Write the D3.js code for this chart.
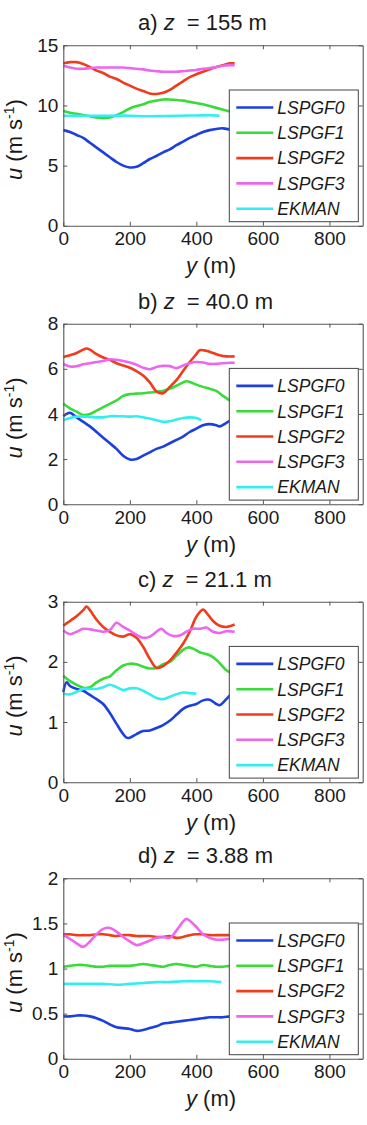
<!DOCTYPE html>
<html>
<head>
<meta charset="utf-8">
<script src="https://cdn.jsdelivr.net/npm/d3@7"></script>
<style>
  body { margin: 0; background: #fff; }
  svg { display: block; font-family: "Liberation Sans", Arial, sans-serif; }
</style>
</head>
<body>
<svg id="chart" width="367" height="1125"></svg>
<script>
// series names and colours
const seriesNames = ["LSPGF0", "LSPGF1", "LSPGF2", "LSPGF3", "EKMAN"];
const seriesColors = ["#1c3fe0", "#38dc38", "#ee3c1c", "#ee66ee", "#33eeee"];

// panel titles
const panelLabels = ["a)", "b)", "c)", "d)"];
const panelHeights = ["155", "40.0", "21.1", "3.88"];
const panelYMax = [15, 8, 3, 2];
const panelYTicks = [[0, 5, 10, 15], [0, 2, 4, 6, 8], [0, 1, 2, 3], [0, 0.5, 1, 1.5, 2]];
const xTicks = [0, 200, 400, 600, 800];

// a) z = 155 m   [y (m), u (m/s)]
const a_LSPGF0 = [[0,7.95],[20,7.8],[40,7.55],[60,7.3],[80,6.9],[100,6.5],[120,6.1],[140,5.7],[160,5.3],[180,5.0],[200,4.85],[220,4.9],[240,5.2],[260,5.55],[280,5.8],[300,6.1],[320,6.35],[340,6.7],[360,7.0],[380,7.3],[400,7.55],[420,7.8],[440,7.95],[460,8.05],[480,8.1],[500,8.0],[510,7.95]];
const a_LSPGF1 = [[0,9.55],[20,9.4],[40,9.3],[60,9.2],[80,9.1],[100,9.0],[120,8.95],[140,9.0],[160,9.2],[180,9.45],[200,9.75],[220,9.95],[240,10.1],[260,10.3],[280,10.4],[300,10.5],[320,10.5],[340,10.45],[360,10.4],[380,10.3],[400,10.2],[420,10.1],[440,9.95],[460,9.8],[480,9.65],[500,9.5],[510,9.45]];
const a_LSPGF2 = [[0,13.5],[20,13.6],[40,13.6],[60,13.45],[80,13.2],[100,12.9],[120,12.7],[140,12.4],[160,12.2],[180,11.9],[200,11.65],[220,11.4],[240,11.2],[260,11.0],[280,10.95],[300,11.05],[320,11.3],[340,11.65],[360,12.0],[380,12.35],[400,12.6],[420,12.8],[440,13.0],[460,13.2],[480,13.35],[500,13.5],[515,13.5]];
const a_LSPGF3 = [[0,13.3],[20,13.15],[40,13.05],[60,13.05],[80,13.1],[100,13.15],[120,13.15],[140,13.15],[160,13.15],[180,13.15],[200,13.1],[220,13.05],[240,13.0],[260,12.9],[280,12.85],[300,12.8],[320,12.8],[340,12.8],[360,12.85],[380,12.9],[400,12.95],[420,13.05],[440,13.1],[460,13.2],[480,13.3],[500,13.35],[515,13.35]];
const a_EKMAN = [[0,9.15],[50,9.15],[100,9.15],[150,9.15],[200,9.15],[250,9.1],[300,9.12],[350,9.15],[400,9.17],[450,9.18],[470,9.15]];

// b) z = 40.0 m
const b_LSPGF0 = [[0,3.9],[10,4.0],[20,4.05],[40,3.85],[60,3.65],[80,3.45],[100,3.2],[120,2.95],[140,2.7],[160,2.45],[180,2.15],[200,1.98],[220,2.0],[240,2.15],[260,2.3],[280,2.45],[300,2.55],[320,2.7],[340,2.85],[360,3.0],[380,3.2],[400,3.35],[420,3.5],[440,3.55],[460,3.5],[470,3.45],[490,3.6],[510,3.8]];
const b_LSPGF1 = [[0,4.45],[20,4.25],[40,4.1],[60,3.95],[80,4.0],[100,4.15],[120,4.3],[140,4.45],[160,4.6],[180,4.8],[200,4.88],[220,4.9],[240,4.92],[260,4.95],[280,4.98],[300,5.02],[320,5.12],[340,5.25],[360,5.4],[370,5.45],[380,5.42],[400,5.3],[420,5.2],[440,5.12],[460,5.02],[480,4.8],[500,4.6],[510,4.5]];
const b_LSPGF2 = [[0,6.52],[20,6.6],[40,6.7],[60,6.85],[70,6.9],[80,6.85],[100,6.65],[120,6.5],[140,6.4],[160,6.25],[180,6.15],[200,6.05],[220,5.9],[240,5.7],[260,5.4],[280,5.0],[300,4.92],[320,5.2],[340,5.5],[360,5.9],[380,6.3],[400,6.65],[410,6.82],[430,6.8],[450,6.7],[470,6.6],[490,6.55],[515,6.55]];
const b_LSPGF3 = [[0,6.22],[20,6.1],[40,6.12],[60,6.2],[80,6.25],[100,6.3],[120,6.35],[140,6.42],[160,6.4],[180,6.35],[200,6.28],[220,6.18],[240,6.05],[260,5.98],[280,6.08],[300,6.13],[320,6.12],[340,6.03],[360,6.15],[380,6.25],[400,6.3],[420,6.28],[440,6.22],[460,6.22],[480,6.25],[500,6.27],[515,6.27]];
const b_EKMAN = [[0,3.72],[20,3.82],[40,3.88],[60,3.88],[80,3.87],[100,3.85],[120,3.85],[140,3.9],[160,3.9],[180,3.9],[200,3.88],[220,3.9],[240,3.85],[260,3.8],[280,3.72],[300,3.65],[320,3.68],[340,3.75],[360,3.82],[380,3.85],[400,3.82],[415,3.72]];

// c) z = 21.1 m
const c_LSPGF0 = [[0,1.5],[10,1.66],[20,1.6],[40,1.55],[60,1.52],[80,1.45],[100,1.38],[120,1.3],[140,1.15],[160,0.97],[180,0.8],[190,0.74],[200,0.74],[220,0.8],[240,0.85],[260,0.86],[280,0.9],[300,0.95],[320,1.02],[340,1.12],[360,1.22],[380,1.27],[400,1.3],[420,1.36],[440,1.37],[460,1.3],[470,1.28],[490,1.38],[510,1.5]];
const c_LSPGF1 = [[0,1.77],[20,1.68],[40,1.62],[60,1.57],[80,1.58],[100,1.66],[120,1.72],[140,1.76],[160,1.86],[180,1.94],[200,1.97],[220,1.96],[240,1.92],[260,1.89],[280,1.9],[300,1.96],[320,2.0],[340,2.1],[360,2.2],[375,2.24],[390,2.22],[410,2.16],[430,2.13],[450,2.08],[470,1.98],[490,1.86],[510,1.8]];
const c_LSPGF2 = [[0,2.6],[20,2.68],[40,2.76],[60,2.86],[70,2.92],[80,2.86],[100,2.7],[120,2.58],[140,2.5],[160,2.44],[180,2.42],[200,2.46],[220,2.4],[240,2.25],[260,2.05],[280,1.9],[300,1.93],[320,2.02],[340,2.15],[360,2.3],[380,2.5],[400,2.75],[420,2.87],[430,2.82],[450,2.68],[470,2.6],[490,2.58],[515,2.62]];
const c_LSPGF3 = [[0,2.52],[20,2.46],[40,2.5],[60,2.55],[80,2.54],[100,2.52],[120,2.5],[140,2.53],[160,2.65],[180,2.58],[200,2.52],[220,2.45],[240,2.4],[260,2.42],[280,2.5],[295,2.55],[310,2.48],[330,2.43],[350,2.44],[370,2.5],[390,2.55],[410,2.55],[430,2.57],[450,2.5],[470,2.48],[490,2.51],[515,2.5]];
const c_EKMAN = [[0,1.47],[20,1.46],[40,1.5],[60,1.55],[80,1.55],[100,1.55],[120,1.58],[140,1.62],[160,1.58],[180,1.53],[200,1.56],[220,1.56],[240,1.52],[260,1.46],[280,1.4],[300,1.38],[320,1.42],[340,1.46],[360,1.49],[380,1.48],[400,1.47]];

// d) z = 3.88 m
const d_LSPGF0 = [[0,0.47],[20,0.47],[40,0.48],[60,0.48],[80,0.47],[100,0.45],[120,0.42],[140,0.38],[160,0.35],[180,0.34],[200,0.33],[220,0.31],[240,0.32],[260,0.34],[280,0.36],[300,0.39],[320,0.4],[340,0.41],[360,0.42],[380,0.43],[400,0.44],[420,0.45],[440,0.46],[460,0.46],[480,0.46],[500,0.47],[510,0.47]];
const d_LSPGF1 = [[0,1.02],[20,1.03],[40,1.04],[60,1.04],[80,1.03],[100,1.02],[120,1.02],[140,1.03],[160,1.03],[180,1.03],[200,1.03],[220,1.04],[240,1.05],[260,1.04],[280,1.03],[300,1.02],[320,1.04],[340,1.05],[360,1.04],[380,1.03],[400,1.02],[420,1.04],[440,1.03],[460,1.02],[480,1.02],[500,1.03],[510,1.03]];
const d_LSPGF2 = [[0,1.38],[20,1.38],[40,1.37],[60,1.37],[80,1.37],[100,1.38],[120,1.38],[140,1.37],[160,1.36],[180,1.37],[200,1.37],[220,1.36],[240,1.36],[260,1.36],[280,1.35],[300,1.35],[320,1.36],[340,1.34],[360,1.35],[380,1.37],[400,1.38],[420,1.38],[440,1.37],[460,1.37],[480,1.37],[500,1.37],[515,1.37]];
const d_LSPGF3 = [[0,1.37],[20,1.33],[40,1.28],[60,1.24],[80,1.3],[100,1.38],[120,1.44],[140,1.45],[160,1.41],[180,1.35],[200,1.3],[220,1.26],[240,1.28],[260,1.31],[280,1.34],[300,1.35],[320,1.34],[340,1.42],[360,1.52],[370,1.55],[380,1.53],[400,1.46],[420,1.38],[440,1.34],[460,1.32],[480,1.32],[500,1.33],[515,1.33]];
const d_EKMAN = [[0,0.83],[40,0.83],[80,0.83],[120,0.83],[160,0.82],[200,0.83],[240,0.84],[280,0.85],[320,0.85],[360,0.86],[400,0.86],[440,0.86],[475,0.85]];

const panelSeries = [
    [a_LSPGF0, a_LSPGF1, a_LSPGF2, a_LSPGF3, a_EKMAN],
    [b_LSPGF0, b_LSPGF1, b_LSPGF2, b_LSPGF3, b_EKMAN],
    [c_LSPGF0, c_LSPGF1, c_LSPGF2, c_LSPGF3, c_EKMAN],
    [d_LSPGF0, d_LSPGF1, d_LSPGF2, d_LSPGF3, d_EKMAN]
];

(() => {
    const svg = d3.select("#chart");
    const left = 63.3, plotW = 299.4, plotH = 180.5;
    const tops = [45.3, 323.7, 601.7, 878.3];
    const tickFont = 19, labelFont = 22;

    const x = d3.scaleLinear().domain([0, 900]).range([0, plotW]);

    panelSeries.forEach((series, p) => {
        const g = svg.append("g").attr("transform", `translate(${left},${tops[p]})`);
        const y = d3.scaleLinear().domain([0, panelYMax[p]]).range([plotH, 0]);

        // lines first, box and legend on top
        const line = d3.line()
            .x(d => x(d[0]))
            .y(d => y(d[1]))
            .curve(d3.curveCatmullRom.alpha(0.5));
        g.selectAll(".series")
            .data(series)
            .join("path")
            .attr("class", "series")
            .attr("fill", "none")
            .attr("stroke", (d, i) => seriesColors[i])
            .attr("stroke-width", 2.6)
            .attr("stroke-linejoin", "round")
            .attr("d", line);

        // axes, ticks pointing inward like matlab
        const styleAxis = sel => {
            sel.select(".domain").attr("stroke", "#555").attr("stroke-width", 1.1);
            sel.selectAll(".tick line").attr("stroke", "#555");
            sel.selectAll("text").attr("font-size", tickFont).attr("fill", "#1a1a1a")
                .attr("font-family", "'Liberation Sans', Arial, sans-serif");
        };
        g.append("g").attr("transform", `translate(0,${plotH})`)
            .call(d3.axisBottom(x).tickValues(xTicks).tickSize(-4).tickSizeOuter(0).tickPadding(6))
            .call(styleAxis);
        g.append("g")
            .call(d3.axisTop(x).tickValues(xTicks).tickSize(-4).tickSizeOuter(0).tickFormat(""))
            .call(styleAxis);
        g.append("g")
            .call(d3.axisLeft(y).tickValues(panelYTicks[p]).tickSize(-4).tickSizeOuter(0).tickPadding(5).tickFormat(d3.format("~g")))
            .call(styleAxis);
        g.append("g").attr("transform", `translate(${plotW},0)`)
            .call(d3.axisRight(y).tickValues(panelYTicks[p]).tickSize(-4).tickSizeOuter(0).tickFormat(""))
            .call(styleAxis);

        // title
        const title = g.append("text")
            .attr("x", 138 - left)
            .attr("y", -15)
            .attr("font-size", labelFont)
            .attr("fill", "#1a1a1a");
        title.append("tspan").text(panelLabels[p] + " ");
        title.append("tspan").attr("font-style", "italic").text("z");
        title.append("tspan").attr("dx", 6).text(" = " + panelHeights[p] + " m");

        // x label
        const xl = g.append("text")
            .attr("x", 211 - left)
            .attr("y", plotH + 47.5)
            .attr("text-anchor", "middle")
            .attr("font-size", labelFont)
            .attr("fill", "#1a1a1a");
        xl.append("tspan").attr("font-style", "italic").text("y");
        xl.append("tspan").text(" (m)");

        // y label
        const yl = g.append("text")
            .attr("transform", `translate(${22 - left},${plotH / 2 + 4}) rotate(-90)`)
            .attr("text-anchor", "middle")
            .attr("font-size", labelFont)
            .attr("fill", "#1a1a1a");
        yl.append("tspan").attr("font-style", "italic").text("u");
        yl.append("tspan").text(" (m s");
        yl.append("tspan").attr("font-size", 14).attr("dy", -8).text("-1");
        yl.append("tspan").attr("dy", 8).text(")");

        // legend
        const lx = 229.3 - left, ly = 44.7, lw = 129, lh = 131.7;
        const leg = g.append("g").attr("transform", `translate(${lx},${ly})`);
        leg.append("rect")
            .attr("width", lw).attr("height", lh)
            .attr("fill", "#fff").attr("stroke", "#444").attr("stroke-width", 1);
        const rows = leg.selectAll(".row")
            .data(seriesNames)
            .join("g")
            .attr("class", "row")
            .attr("transform", (d, i) => `translate(0,${17.5 + i * 25.3})`);
        rows.append("line")
            .attr("x1", 7).attr("x2", 44)
            .attr("stroke", (d, i) => seriesColors[i])
            .attr("stroke-width", 2.6);
        rows.append("text")
            .attr("x", 48)
            .attr("dy", "0.36em")
            .attr("font-size", 17.5)
            .attr("font-style", "italic")
            .attr("fill", "#1a1a1a")
            .text(d => d);
    });
})();
</script>
</body>
</html>
